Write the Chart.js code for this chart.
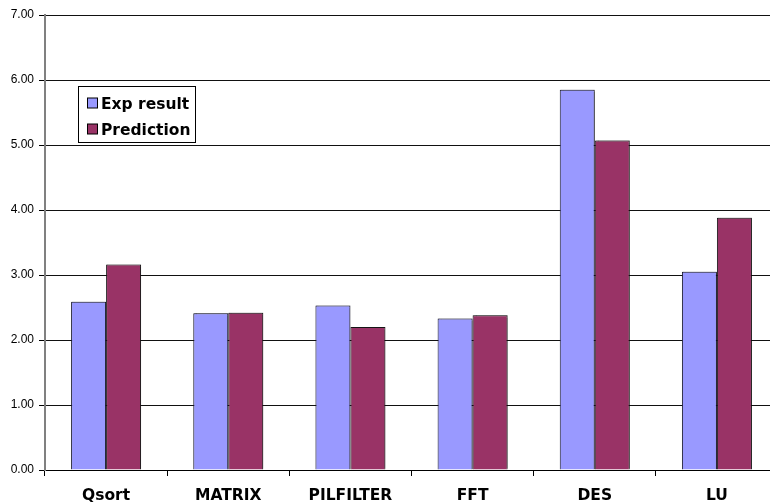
<!DOCTYPE html>
<html>
<head>
<meta charset="utf-8">
<script src="https://cdn.jsdelivr.net/npm/chart.js@4.4.1/dist/chart.umd.min.js"></script>
<style>
  html, body { margin: 0; padding: 0; background: #fff; overflow: hidden; }
  #wrap { width: 770px; height: 502px; overflow: hidden; position: relative; }
  #box { width: 778px; height: 502px; position: absolute; left: 0; top: 0; }
</style>
</head>
<body>
<div id="wrap"><div id="box"><canvas id="c"></canvas></div></div>
<script>
// Benchmarks and measured vs. predicted values
const categories = ['Qsort', 'MATRIX', 'PILFILTER', 'FFT', 'DES', 'LU'];
const expResult  = [2.59, 2.41, 2.53, 2.33, 5.85, 3.05];
const prediction = [3.16, 2.42, 2.20, 2.38, 5.07, 3.88];
const seriesNames = ['Exp result', 'Prediction'];
const yTicks = [0, 1, 2, 3, 4, 5, 6, 7];

const BOLD = '"DejaVu Sans", Verdana, sans-serif';

// Boxed legend drawn inside the plot area
const boxedLegend = {
  id: 'boxedLegend',
  afterDraw(chart) {
    const ctx = chart.ctx;
    const x0 = 78.5, y0 = 86.5, w = 117, h = 56;
    ctx.save();
    ctx.fillStyle = '#fff';
    ctx.fillRect(x0, y0, w, h);
    ctx.strokeStyle = '#000';
    ctx.lineWidth = 1;
    ctx.strokeRect(x0, y0, w, h);
    ctx.font = 'bold 15.5px ' + BOLD;
    ctx.textBaseline = 'alphabetic';
    chart.data.datasets.forEach((ds, i) => {
      const ry = y0 + 11.5 + i * 26;
      ctx.fillStyle = ds.backgroundColor;
      ctx.fillRect(87.5, ry, 10, 10);
      ctx.strokeStyle = '#000';
      ctx.strokeRect(87.5, ry, 10, 10);
      ctx.fillStyle = '#000';
      ctx.fillText(ds.label, 101, ry + 11);
    });
    ctx.restore();
  }
};

// Soft drop shadow behind the bars
const barShadow = {
  id: 'barShadow',
  beforeDatasetsDraw(chart) {
    const ctx = chart.ctx;
    ctx.save();
    ctx.shadowColor = 'rgba(0,0,0,0.35)';
    ctx.shadowOffsetX = 1;
    ctx.shadowOffsetY = -1;
    ctx.shadowBlur = 1;
  },
  afterDatasetsDraw(chart) {
    chart.ctx.restore();
  }
};

new Chart(document.getElementById('c'), {
  type: 'bar',
  data: {
    labels: categories,
    datasets: [
      { label: seriesNames[0], data: expResult, backgroundColor: '#9999FF', borderColor: '#1a1a2e', borderWidth: 1 },
      { label: seriesNames[1], data: prediction, backgroundColor: '#993366', borderColor: '#1a1a1a', borderWidth: 1 }
    ]
  },
  options: {
    responsive: true,
    maintainAspectRatio: false,
    animation: false,
    layout: { padding: { top: 15, right: 0, bottom: 0, left: 0 } },
    datasets: { bar: { barPercentage: 1.0, categoryPercentage: 0.573 } },
    plugins: {
      legend: { display: false },
      tooltip: { enabled: false }
    },
    scales: {
      x: {
        grid: { drawOnChartArea: false, drawTicks: true, tickLength: 6, tickColor: '#000', offset: true },
        border: { color: '#000', width: 1 },
        ticks: { color: '#000', font: { family: BOLD, size: 15.5, weight: 'bold' }, padding: 11, maxRotation: 0 },
        afterFit(scale) { scale.height = 32; }
      },
      y: {
        min: 0,
        max: 7,
        afterBuildTicks(scale) { scale.ticks = yTicks.map(v => ({ value: v })); },
        grid: { color: '#111', lineWidth: 1, tickLength: 6, tickColor: '#000' },
        border: { color: '#808080', width: 2 },
        ticks: {
          color: '#000',
          padding: 5,
          font: { family: '"Liberation Sans", Arial, sans-serif', size: 12 },
          callback: v => Number(v).toFixed(2)
        },
        afterFit(scale) { scale.width = 45; }
      }
    }
  },
  plugins: [barShadow, boxedLegend]
});
</script>
</body>
</html>
